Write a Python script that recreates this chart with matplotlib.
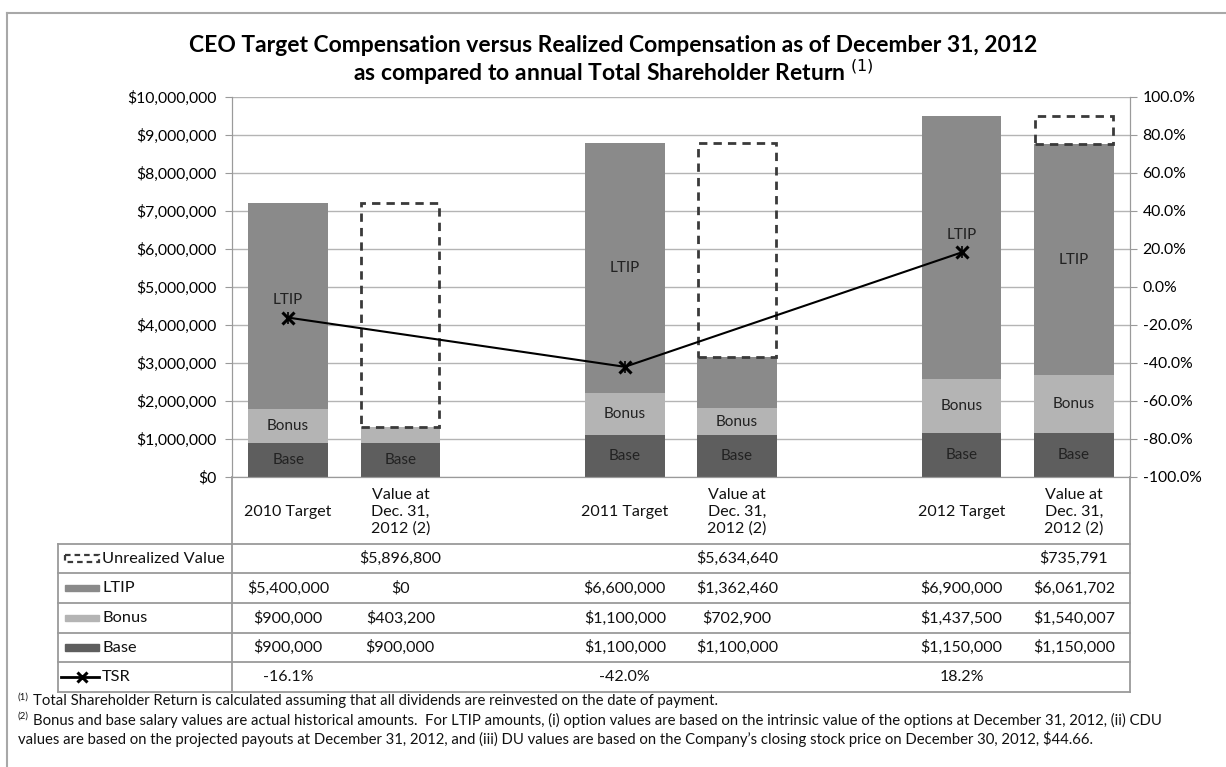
import numpy as np
import matplotlib.pyplot as plt
from matplotlib.patches import Rectangle
from matplotlib.lines import Line2D

plt.rcParams['font.family'] = ['Lato', 'DejaVu Sans']

# chart data (blank columns are spacers between the years)
categories = ["2010 Target", "Value at\nDec. 31,\n2012 (2)", "",
              "2011 Target", "Value at\nDec. 31,\n2012 (2)", "",
              "2012 Target", "Value at\nDec. 31,\n2012 (2)"]
base = [900000, 900000, None, 1100000, 1100000, None, 1150000, 1150000]
bonus = [900000, 403200, None, 1100000, 702900, None, 1437500, 1540007]
ltip = [5400000, 0, None, 6600000, 1362460, None, 6900000, 6061702]
unrealized = [None, 5896800, None, None, 5634640, None, None, 735791]
tsr = [-16.1, None, None, -42.0, None, None, 18.2, None]

row_names = ["Unrealized Value", "LTIP", "Bonus", "Base", "TSR"]

C_BASE = "#5e5e5e"
C_BONUS = "#b4b4b4"
C_LTIP = "#8a8a8a"
C_GRID = "#b4b4b4"
C_LINE = "#9a9a9a"

W, H = 1226, 767
fig = plt.figure(figsize=(W / 100, H / 100), dpi=100)

def num(v):
    return np.array([0 if x is None else x for x in v], dtype=float)

x = np.arange(len(categories))
b_base, b_bonus, b_ltip, b_unr = num(base), num(bonus), num(ltip), num(unrealized)

# main plot area
ax = fig.add_axes([232 / W, 1 - 477 / H, 898 / W, 380 / H])
bw = 0.71
ax.bar(x, b_base, bw, color=C_BASE, zorder=2)
ax.bar(x, b_bonus, bw, bottom=b_base, color=C_BONUS, zorder=2)
ax.bar(x, b_ltip, bw, bottom=b_base + b_bonus, color=C_LTIP, zorder=2)
top = b_base + b_bonus + b_ltip
for i in range(len(x)):
    if unrealized[i]:
        ax.bar(x[i], b_unr[i], bw * 0.98, bottom=top[i], fill=False, edgecolor="#3a3a3a",
               linewidth=2, linestyle=(0, (3, 2.2)), zorder=3)

# segment labels (LTIP label sits just above the TSR marker when they meet)
lab = dict(ha="center", va="center", fontsize=11, color="#222222", zorder=4)
for i in range(len(x)):
    if base[i]:
        ax.text(x[i], b_base[i] / 2, "Base", **lab)
    if bonus[i] and bonus[i] >= 500000:
        ax.text(x[i], b_base[i] + b_bonus[i] / 2, "Bonus", **lab)
    if ltip[i] and ltip[i] >= 2000000:
        yl = b_base[i] + b_bonus[i] + b_ltip[i] / 2
        if tsr[i] is not None:
            ym = (tsr[i] + 100) / 200 * 10000000
            if abs(ym - yl) < 1000000:
                yl = ym + 470000
        ax.text(x[i], yl, "LTIP", **lab)

ax.set_xlim(-0.5, len(x) - 0.5)
ax.set_ylim(0, 10000000)
ax.set_yticks(np.arange(0, 10000001, 1000000))
ax.set_yticklabels(["${:,.0f}".format(v) for v in np.arange(0, 10000001, 1000000)])
ax.yaxis.grid(True, color=C_GRID, linewidth=1, zorder=0)
ax.set_axisbelow(True)
ax.set_xticks([])
ax.tick_params(axis="y", length=5, color=C_LINE, labelsize=11.3, pad=6)
for s in ax.spines.values():
    s.set_color(C_LINE)
ax.spines["top"].set_visible(False)

# TSR on the secondary axis
ax2 = ax.twinx()
ax2.set_ylim(-100, 100)
ax2.set_yticks(np.arange(-100, 101, 20))
ax2.set_yticklabels(["{:.1f}%".format(v) for v in np.arange(-100, 101, 20)])
ax2.tick_params(axis="y", length=5, color=C_LINE, labelsize=11.3, pad=4)
for s in ax2.spines.values():
    s.set_color(C_LINE)
ax2.spines["top"].set_visible(False)
tx = [x[i] for i in range(len(x)) if tsr[i] is not None]
ty = [tsr[i] for i in range(len(x)) if tsr[i] is not None]
ax2.plot(tx, ty, color="black", linewidth=1.5, zorder=5)
ax2.plot(tx, ty, linestyle="none", marker="x", markersize=8, mew=2.2, color="black", zorder=6)
ax2.plot(tx, ty, linestyle="none", marker="|", markersize=8, mew=1.2, color="black", zorder=6)

# data table below the chart
hdr = 2.25
nrows = len(row_names)
tax = fig.add_axes([232 / W, 1 - 692 / H, 898 / W, 215 / H])
tax.set_xlim(-0.5, len(x) - 0.5)
tax.set_ylim(hdr + nrows, 0)
tax.axis("off")
ytr = tax.get_yaxis_transform()
left = (58 - 232) / 898
for k in range(nrows + 1):
    tax.add_line(Line2D([left, 1], [hdr + k, hdr + k], transform=ytr, color=C_LINE,
                        linewidth=1.3, clip_on=False))
tax.add_line(Line2D([left, left], [hdr, hdr + nrows], transform=ytr, color=C_LINE,
                    linewidth=1.3, clip_on=False))
for xv in (0, 1):
    tax.add_line(Line2D([xv, xv], [0, hdr + nrows], transform=ytr, color=C_LINE,
                        linewidth=1.3, clip_on=False))

cell = dict(ha="center", va="center", fontsize=11.5, color="#111111")
for i, c in enumerate(categories):
    tax.text(x[i], hdr / 2 + 0.05, c, linespacing=1.2, **cell)

def money(v):
    return "" if v is None else "${:,.0f}".format(v)

rows = [[money(v) for v in unrealized], [money(v) for v in ltip],
        [money(v) for v in bonus], [money(v) for v in base],
        ["" if v is None else "{:.1f}%".format(v) for v in tsr]]
for r, vals in enumerate(rows):
    yc = hdr + r + 0.5
    for i, s in enumerate(vals):
        tax.text(x[i], yc, s, **cell)
    tax.text((102 - 232) / 898, yc, row_names[r], transform=ytr, ha="left", va="center",
             fontsize=11.8, color="#111111")

# legend keys in the row label column
kx0, kx1 = (65 - 232) / 898, (99 - 232) / 898
tax.add_patch(Rectangle((kx0, hdr + 0.5 - 0.13), kx1 - kx0, 0.26, transform=ytr, fill=False,
                        edgecolor="#3a3a3a", linewidth=1.6, linestyle=(0, (2.5, 1.8)), clip_on=False))
for r, col in zip((1, 2, 3), (C_LTIP, C_BONUS, C_BASE)):
    tax.add_patch(Rectangle((kx0, hdr + r + 0.5 - 0.11), kx1 - kx0, 0.22, transform=ytr,
                            color=col, clip_on=False))
yt = hdr + 4 + 0.5
tax.add_line(Line2D([(61 - 232) / 898, kx1], [yt, yt], transform=ytr, color="black",
                    linewidth=2, clip_on=False))
tax.plot([(kx0 + kx1) / 2], [yt], transform=ytr, marker="x", markersize=7, mew=2.2,
         color="black", clip_on=False)

# title and footnotes
fig.text(0.5, 1 - 46 / H, "CEO Target Compensation versus Realized Compensation as of December 31, 2012",
         ha="center", va="center", fontsize=16.5, fontweight="bold")
fig.text(0.5, 1 - 72 / H, r"as compared to annual Total Shareholder Return $^{\rm (1)}$",
         ha="center", va="center", fontsize=16.5, fontweight="bold")
fn = dict(ha="left", va="center", fontsize=10.7, color="#111111")
sup = dict(ha="left", va="center", fontsize=7, color="#111111")
fig.text(18 / W, 1 - 697 / H, "(1)", **sup)
fig.text(33 / W, 1 - 701 / H, "Total Shareholder Return is calculated assuming that all dividends are reinvested on the date of payment.", **fn)
fig.text(18 / W, 1 - 716 / H, "(2)", **sup)
fig.text(33 / W, 1 - 720 / H, "Bonus and base salary values are actual historical amounts.  For LTIP amounts, (i) option values are based on the intrinsic value of the options at December 31, 2012, (ii) CDU", **fn)
fig.text(18 / W, 1 - 739 / H, "values are based on the projected payouts at December 31, 2012, and (iii) DU values are based on the Company\u2019s closing stock price on December 30, 2012, $44.66.", **fn)

# outer frame
fig.add_artist(Line2D([7 / W, 7 / W], [0, 1 - 13 / H], transform=fig.transFigure, color="#a8a8a8", linewidth=1.5))
fig.add_artist(Line2D([7 / W, 1], [1 - 13 / H, 1 - 13 / H], transform=fig.transFigure, color="#a8a8a8", linewidth=1.5))

fig.savefig("out.png", dpi=100)
